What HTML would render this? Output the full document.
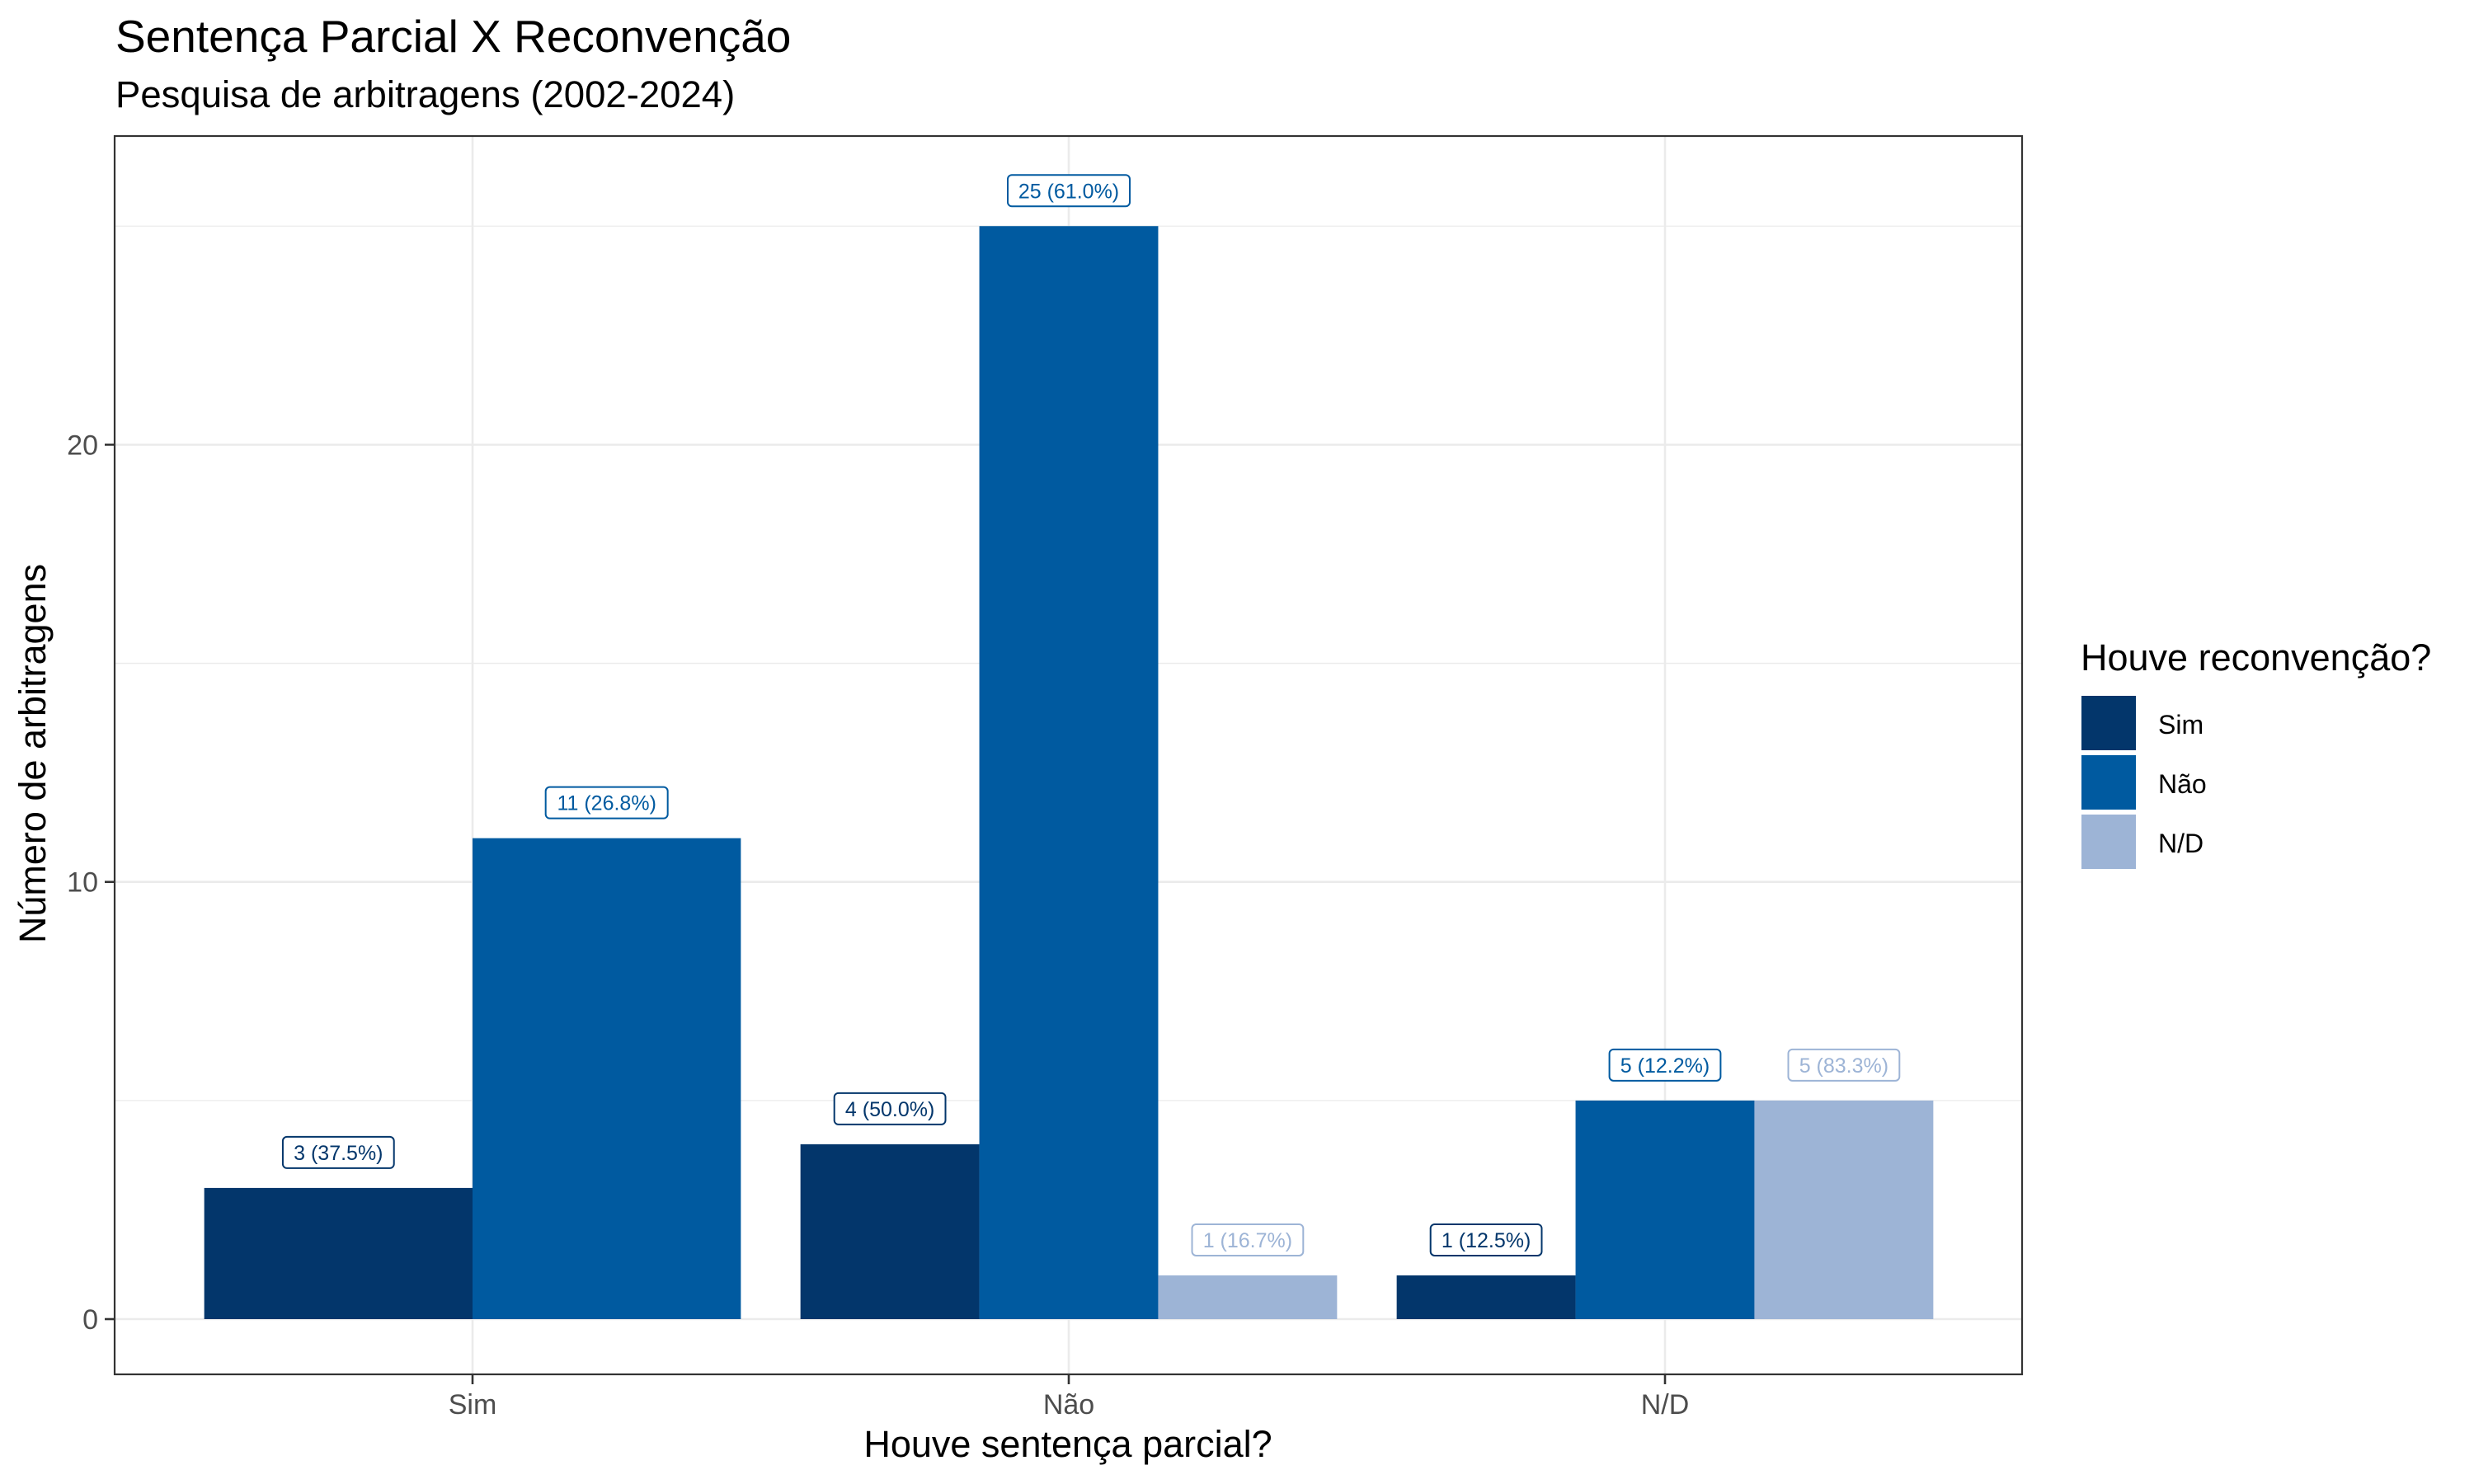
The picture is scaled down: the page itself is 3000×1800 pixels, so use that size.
<!DOCTYPE html>
<html><head><meta charset="utf-8">
<style>
html,body{margin:0;padding:0;background:#fff;}
svg{display:block;font-family:"Liberation Sans",sans-serif;}
</style></head>
<body>
<svg id="chart" width="3000" height="1800" viewBox="0 0 3000 1800" xmlns="http://www.w3.org/2000/svg">
<rect width="3000" height="1800" fill="#fff"/>
<text x="140" y="63" font-size="55" fill="#000">Sentença Parcial X Reconvenção</text>
<text x="140" y="130" font-size="45.5" fill="#000">Pesquisa de arbitragens (2002-2024)</text>
<g id="plot"></g>
<text x="1295" y="1767" font-size="45" text-anchor="middle" fill="#000">Houve sentença parcial?</text>
<text transform="translate(55,914) rotate(-90)" font-size="45" text-anchor="middle" fill="#000">Número de arbitragens</text>
<g id="legend"></g>
</svg>
<script>
const categories = ["Sim", "Não", "N/D"];
const seriesNames = ["Sim", "Não", "N/D"];
const valuesSim = [3, 4, 1];
const valuesNao = [11, 25, 5];
const valuesND = [0, 1, 5];
const pctSim = ["37.5%", "50.0%", "12.5%"];
const pctNao = ["26.8%", "61.0%", "12.2%"];
const pctND = ["", "16.7%", "83.3%"];
const yTicks = [0, 10, 20];
const yMinor = [5, 15, 25];

const colors = ["#03366b", "#005aa0", "#9db4d6"];
const NS = "http://www.w3.org/2000/svg";
const P = {l:139, r:2452, t:165, b:1667};
const y0px = 1600, unit = 53.03;
const y = v => y0px - v*unit;
const catStep = 723, cat0 = 573;
const x = i => cat0 + i*catStep;
const groupW = 0.9*catStep;

function mk(tag, attrs, parent){
  const e = document.createElementNS(NS, tag);
  for (const k in attrs) e.setAttribute(k, attrs[k]);
  parent.appendChild(e);
  return e;
}
const plot = document.getElementById('plot');
mk('rect',{x:P.l,y:P.t,width:P.r-P.l,height:P.b-P.t,fill:'#fff'},plot);
yMinor.forEach(v=>{
  const l = mk('line',{x1:P.l,x2:P.r,y1:y(v),y2:y(v),stroke:'#ebebeb','stroke-width':1.3},plot);
  
  
});
yTicks.forEach(v=>{
  const l = mk('line',{x1:P.l,x2:P.r,y1:y(v),y2:y(v),stroke:'#ebebeb','stroke-width':2.6},plot);
  
  
  const tk = mk('line',{x1:P.l-12,x2:P.l,y1:y(v),y2:y(v),stroke:'#333','stroke-width':2.6},plot);
  
  
  const t = mk('text',{x:P.l-20,y:y(v)+12,'font-size':34,'text-anchor':'end',fill:'#4d4d4d'},plot);
  t.textContent = v;
  
  
});
categories.forEach((c,i)=>{
  const l = mk('line',{x1:x(i),x2:x(i),y1:P.t,y2:P.b,stroke:'#ebebeb','stroke-width':2.6},plot);
  
  
  const tk = mk('line',{x1:x(i),x2:x(i),y1:P.b,y2:P.b+12,stroke:'#333','stroke-width':2.6},plot);
  
  
  const t = mk('text',{x:x(i),y:1715,'font-size':34,'text-anchor':'middle',fill:'#4d4d4d'},plot);
  t.textContent = c;
  
  
});
const series = [valuesSim, valuesNao, valuesND];
const pcts = [pctSim, pctNao, pctND];
categories.forEach((c,i)=>{
  const present = [0,1,2].filter(s=>series[s][i] > 0);
  const bw = groupW/present.length;
  const start = x(i) - groupW/2;
  present.forEach((s,k)=>{
    const v = series[s][i];
    const bx = start + k*bw;
    const r = mk('rect',{x:bx,y:y(v),width:bw,height:y(0)-y(v),fill:colors[s]},plot);
    
    
    const cx = bx + bw/2, cy = y(v) - 43;
    const label = v + ' (' + pcts[s][i] + ')';
    const w = label.length*13.2 + 16;
    const bl = mk('rect',{x:cx-w/2,y:cy-19,width:w,height:38,rx:5,fill:'#fff',stroke:colors[s],'stroke-width':2},plot);
    
    
    const t = mk('text',{x:cx,y:cy+9,'font-size':25,'text-anchor':'middle',fill:colors[s]},plot);
    t.textContent = label;
    
    
  });
});
const frame = mk('rect',{x:P.l,y:P.t,width:P.r-P.l,height:P.b-P.t,fill:'none',stroke:'#333','stroke-width':2.2},plot);



const lg = document.getElementById('legend');
const lt = mk('text',{x:2523,y:813,'font-size':45,fill:'#000'},lg);
lt.textContent = 'Houve reconvenção?';


seriesNames.forEach((n,s)=>{
  const ky = 844 + s*72;
  const k = mk('rect',{x:2524,y:ky,width:66,height:66,fill:colors[s]},lg);
  
  
  const t = mk('text',{x:2617,y:ky+46,'font-size':32,fill:'#000'},lg);
  t.textContent = n;
  
  
});
</script>
</body></html>
